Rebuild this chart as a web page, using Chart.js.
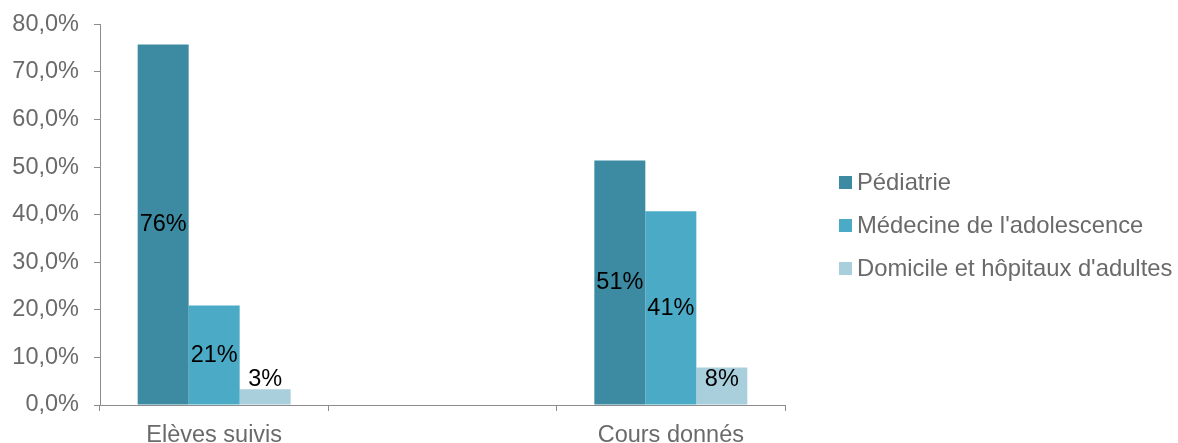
<!DOCTYPE html>
<html><head><meta charset="utf-8">
<script src="https://cdn.jsdelivr.net/npm/chart.js@4"></script>
<style>html,body{margin:0;padding:0;background:#fff}#wrap{width:1178px;height:443px}</style>
</head><body><div id="wrap"><canvas id="c" width="1178" height="443"></canvas></div>
<script>
const categories = ["Elèves suivis", "", "Cours donnés"];
const seriesNames = ["Pédiatrie", "Médecine de l'adolescence", "Domicile et hôpitaux d'adultes"];
const pediatrie = [75.8, null, 51.4];
const medecine = [20.9, null, 40.7];
const domicile = [3.3, null, 7.9];
const colors = ["#3C8BA3", "#4BABC6", "#A9CFDD"];
const yTicks = [0, 10, 20, 30, 40, 50, 60, 70, 80];

const FONT = "'Liberation Sans', Arial, sans-serif";
const GRAY = "#6A6A6A";
const AXIS = "#8C8C8C";

const valueLabels = {
  id: 'valueLabels',
  afterDatasetsDraw(chart) {
    const ctx = chart.ctx;
    const base = chart.scales.y.getPixelForValue(0);
    ctx.save();
    ctx.font = "23.5px " + FONT;
    ctx.fillStyle = "#000";
    ctx.textAlign = "center";
    ctx.textBaseline = "middle";
    chart.data.datasets.forEach((ds, i) => {
      chart.getDatasetMeta(i).data.forEach((bar, j) => {
        const v = ds.data[j];
        if (v == null) return;
        const cy = Math.min((bar.y + base) / 2, base - 25);
        ctx.fillText(Math.round(v) + "%", bar.x, cy);
      });
    });
    ctx.restore();
  }
};

const customLegend = {
  id: 'customLegend',
  afterDraw(chart) {
    const ctx = chart.ctx;
    ctx.save();
    ctx.font = "23.8px " + FONT;
    ctx.textBaseline = "middle";
    ctx.textAlign = "left";
    chart.data.datasets.forEach((ds, i) => {
      const y = 183 + i * 43;
      ctx.fillStyle = ds.backgroundColor;
      ctx.fillRect(839, y - 7, 13, 13);
      ctx.fillStyle = GRAY;
      ctx.fillText(ds.label, 857, y);
    });
    ctx.restore();
  }
};

new Chart(document.getElementById('c'), {
  type: 'bar',
  data: {
    labels: categories,
    datasets: [
      { label: seriesNames[0], data: pediatrie, backgroundColor: colors[0] },
      { label: seriesNames[1], data: medecine, backgroundColor: colors[1] },
      { label: seriesNames[2], data: domicile, backgroundColor: colors[2] }
    ]
  },
  options: {
    responsive: false,
    animation: false,
    layout: { padding: { top: 24, right: 393, left: 0, bottom: 0 } },
    datasets: { bar: { barPercentage: 1, categoryPercentage: 0.67, borderWidth: 0 } },
    plugins: { legend: { display: false }, tooltip: { enabled: false } },
    scales: {
      x: {
        offset: true,
        grid: { offset: true, drawOnChartArea: false, drawTicks: true, tickLength: 6, color: AXIS },
        border: { color: AXIS, width: 1 },
        ticks: { font: { family: FONT, size: 23.5 }, color: GRAY, padding: 10, maxRotation: 0 },
        afterFit(s) { s.height = 38; }
      },
      y: {
        min: 0, max: 80,
        afterBuildTicks(s) { s.ticks = yTicks.map(v => ({ value: v })); },
        grid: { drawOnChartArea: false, drawTicks: true, tickLength: 6, color: AXIS },
        border: { color: AXIS, width: 1 },
        ticks: {
          font: { family: FONT, size: 23.5, lineHeight: 0.8 }, color: GRAY, padding: 15,
          callback: v => v.toFixed(1).replace('.', ',') + '%'
        },
        afterFit(s) { s.width = 100; }
      }
    }
  },
  plugins: [valueLabels, customLegend]
});
</script>
</body></html>
